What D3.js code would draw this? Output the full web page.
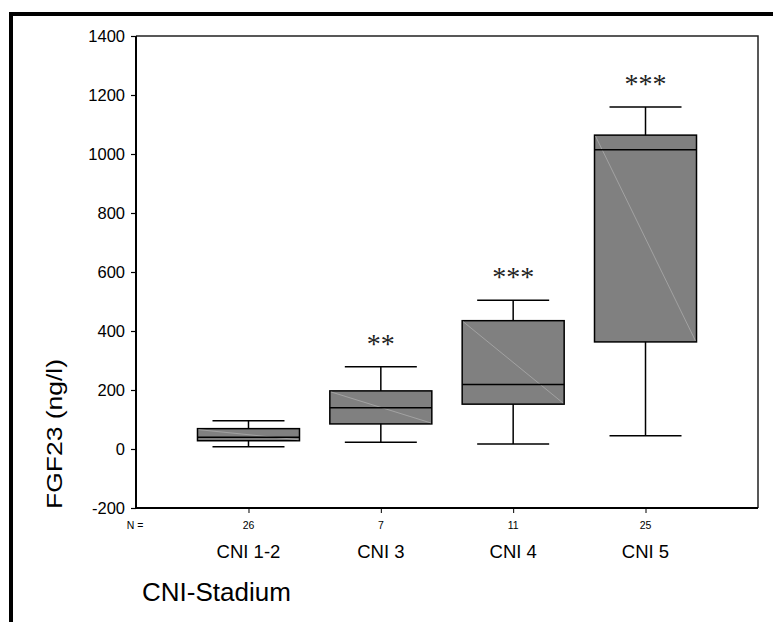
<!DOCTYPE html>
<html lang="en">
<head>
<meta charset="UTF-8">
<script src="https://d3js.org/d3.v7.min.js"></script>
<style>
    body { margin: 0; background: white; }
    text { font-family: "Liberation Sans", Arial, sans-serif; fill: #000; }
    .stars { font-family: "Liberation Serif", "Times New Roman", serif; fill: #222; }
</style>
</head>
<body>
<svg id="chart" width="773" height="622"></svg>
<script>
    // values
    const categories = ["CNI 1-2", "CNI 3", "CNI 4", "CNI 5"];
    const nCounts = [26, 7, 11, 25];
    const whiskerLow = [8, 23, 17, 45];
    const q1 = [28, 85, 152, 363];
    const median = [40, 140, 219, 1014];
    const q3 = [69, 197, 435, 1064];
    const whiskerHigh = [96, 279, 504, 1159];
    const stars = ["", "**", "***", "***"];
    const yTicks = [-200, 0, 200, 400, 600, 800, 1000, 1200, 1400];

    const svg = d3.select("#chart");
    const plotL = 136, plotR = 758, plotT = 36, plotB = 508;

    const y = d3.scaleLinear().domain([-200, 1400]).range([plotB, plotT]);
    const x = d3.scalePoint().domain(categories).range([plotL, plotR]).padding(0.85);

    const boxW = 102, capW = 72;

    // outer frame
    svg.append("rect")
        .attr("x", 11).attr("y", 14)
        .attr("width", 820).attr("height", 700)
        .attr("fill", "none").attr("stroke", "#000").attr("stroke-width", 4);

    // plot frame (top + right)
    svg.append("path")
        .attr("d", `M${plotL},${plotT}H${plotR}V${plotB}`)
        .attr("fill", "none").attr("stroke", "#222").attr("stroke-width", 1.5);

    // y axis
    const yAxis = svg.append("g")
        .attr("transform", `translate(${plotL},0)`)
        .call(d3.axisLeft(y).tickValues(yTicks).tickSize(5).tickPadding(6).tickFormat(d => String(d)));
    yAxis.select(".domain").attr("stroke-width", 2).attr("d", `M0,${plotT}V${plotB}`);
    yAxis.selectAll(".tick line").attr("stroke-width", 1.2);
    yAxis.selectAll("text").style("font-size", "16.5px").attr("font-family", null);

    // x axis
    const xAxis = svg.append("g")
        .attr("transform", `translate(0,${plotB})`)
        .call(d3.axisBottom(x).tickSize(5).tickFormat(""));
    xAxis.select(".domain").attr("stroke-width", 2).attr("d", `M${plotL},0H${plotR}`);
    xAxis.selectAll(".tick line").attr("stroke-width", 1);

    // N counts
    svg.append("text")
        .attr("x", 135).attr("y", 529)
        .attr("text-anchor", "middle")
        .style("font-size", "10.5px")
        .text("N =");
    svg.selectAll(".ncount")
        .data(categories)
        .join("text")
        .attr("class", "ncount")
        .attr("x", d => x(d))
        .attr("y", 529)
        .attr("text-anchor", "middle")
        .style("font-size", "10.5px")
        .text((d, i) => nCounts[i]);

    // category labels
    svg.selectAll(".cat")
        .data(categories)
        .join("text")
        .attr("class", "cat")
        .attr("x", d => x(d))
        .attr("y", 558)
        .attr("text-anchor", "middle")
        .style("font-size", "18.5px")
        .text(d => d);

    svg.append("text")
        .attr("x", 142).attr("y", 601)
        .style("font-size", "26px")
        .text("CNI-Stadium");

    svg.append("text")
        .attr("transform", "translate(62,434) rotate(-90)")
        .attr("text-anchor", "middle")
        .attr("textLength", 150)
        .attr("lengthAdjust", "spacingAndGlyphs")
        .style("font-size", "22px")
        .text("FGF23 (ng/l)");

    // boxes
    const boxes = svg.selectAll(".box")
        .data(categories)
        .join("g")
        .attr("class", "box");

    boxes.append("line")
        .attr("x1", d => x(d)).attr("x2", d => x(d))
        .attr("y1", (d, i) => y(whiskerLow[i])).attr("y2", (d, i) => y(whiskerHigh[i]))
        .attr("stroke", "#000").attr("stroke-width", 1.5);

    boxes.selectAll(".cap")
        .data((d, i) => [{ c: d, v: whiskerLow[i] }, { c: d, v: whiskerHigh[i] }])
        .join("line")
        .attr("class", "cap")
        .attr("x1", d => x(d.c) - capW / 2).attr("x2", d => x(d.c) + capW / 2)
        .attr("y1", d => y(d.v)).attr("y2", d => y(d.v))
        .attr("stroke", "#000").attr("stroke-width", 1.5);

    boxes.append("rect")
        .attr("x", d => x(d) - boxW / 2)
        .attr("y", (d, i) => y(q3[i]))
        .attr("width", boxW)
        .attr("height", (d, i) => y(q1[i]) - y(q3[i]))
        .attr("fill", "#808080")
        .attr("stroke", "#000").attr("stroke-width", 1.5);

    // faint diagonal artefact
    boxes.append("line")
        .attr("x1", d => x(d) - boxW / 2 + 1).attr("x2", d => x(d) + boxW / 2 - 1)
        .attr("y1", (d, i) => y(q3[i]) + 1).attr("y2", (d, i) => y(q1[i]) - 1)
        .attr("stroke", "#b0b0b0").attr("stroke-width", 0.7);

    boxes.append("line")
        .attr("x1", d => x(d) - boxW / 2).attr("x2", d => x(d) + boxW / 2)
        .attr("y1", (d, i) => y(median[i])).attr("y2", (d, i) => y(median[i]))
        .attr("stroke", "#000").attr("stroke-width", 1.5);

    boxes.append("text")
        .attr("class", "stars")
        .attr("x", d => x(d))
        .attr("y", (d, i) => y(whiskerHigh[i]) - 14)
        .attr("text-anchor", "middle")
        .style("font-size", "28px")
        .text((d, i) => stars[i]);
</script>
</body>
</html>
